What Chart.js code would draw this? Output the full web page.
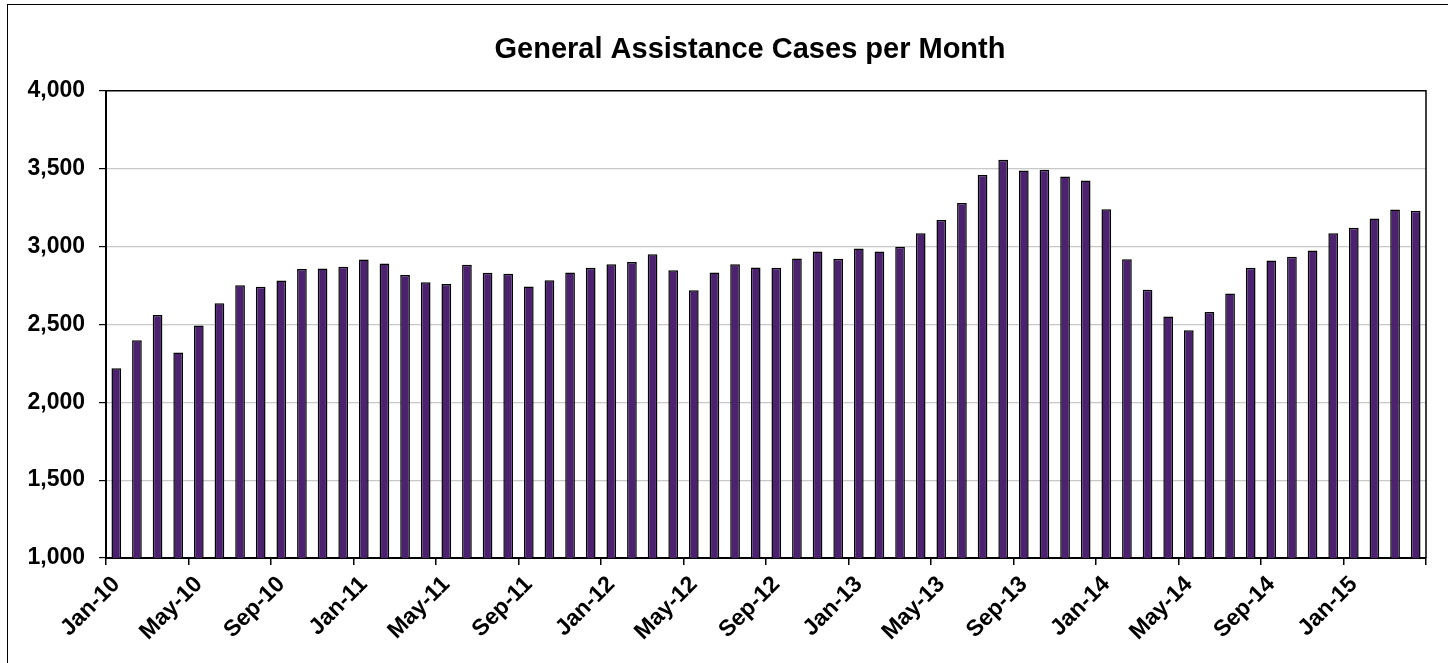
<!DOCTYPE html>
<html>
<head>
<meta charset="utf-8">
<script src="https://cdn.jsdelivr.net/npm/chart.js@4/dist/chart.umd.min.js"></script>
<style>
    html, body { margin: 0; padding: 0; background: #fff; overflow: hidden; }
    #wrap { position: relative; width: 1448px; height: 663px; overflow: hidden; }
    #frame { position: absolute; left: 7px; top: 4px; width: 2000px; height: 2000px;
             border: 1.5px solid #000; pointer-events: none; }
    canvas { position: absolute; left: 0; top: 0; }
</style>
</head>
<body>
<div id="wrap">
    <canvas id="chart" width="1500" height="663"></canvas>
    <div id="frame"></div>
</div>
<script>
const months = ['Jan', 'Feb', 'Mar', 'Apr', 'May', 'Jun', 'Jul', 'Aug', 'Sep', 'Oct', 'Nov', 'Dec'];
const years = ['10', '11', '12', '13', '14', '15'];

// Jan-10 .. Apr-15, one label per month
const labels = [];
years.forEach(y => months.forEach(m => labels.push(m + '-' + y)));
labels.length = 64;

const cases = [
    2219, 2399, 2561, 2319, 2493, 2636, 2752, 2741, 2782, 2855, 2859, 2870,
    2917, 2891, 2818, 2771, 2759, 2883, 2831, 2825, 2743, 2784, 2833, 2863,
    2887, 2900, 2951, 2848, 2720, 2833, 2887, 2865, 2863, 2923, 2968, 2921,
    2987, 2968, 2998, 3086, 3170, 3279, 3459, 3557, 3488, 3493, 3450, 3424,
    3240, 2919, 2722, 2550, 2463, 2579, 2698, 2863, 2910, 2934, 2974, 3086,
    3120, 3180, 3238, 3229
];

const yMin = 1000;
const yMax = 4000;
const yStep = 500;

// top and right edge of the plot area
const plotBorder = {
    id: 'plotBorder',
    afterDraw(chart) {
        const { ctx, chartArea: a } = chart;
        ctx.save();
        ctx.strokeStyle = '#000';
        ctx.lineWidth = 1.5;
        ctx.beginPath();
        ctx.moveTo(a.left, a.top);
        ctx.lineTo(a.right, a.top);
        ctx.lineTo(a.right, a.bottom);
        ctx.stroke();
        ctx.restore();
    }
};

const font = { family: '"Liberation Sans", Arial, sans-serif', size: 23, weight: 'bold' };

new Chart(document.getElementById('chart').getContext('2d'), {
    type: 'bar',
    data: {
        labels: labels,
        datasets: [{
            label: 'Cases',
            data: cases,
            backgroundColor: '#4B2170',
            borderColor: '#000',
            borderWidth: 1.5,
            categoryPercentage: 1,
            barPercentage: 0.47,
            yAxisID: 'y',
        }],
    },
    options: {
        responsive: false,
        animation: false,
        layout: { padding: 0 },
        plugins: {
            legend: { display: false },
            tooltip: { enabled: false },
            title: {
                display: true,
                text: 'General Assistance Cases per Month',
                color: '#000',
                font: { family: font.family, size: 29, weight: 'bold' },
                padding: { top: 33, bottom: 23 },
            },
        },
        scales: {
            x: {
                offset: true,
                grid: {
                    offset: true,
                    drawOnChartArea: false,
                    drawTicks: true,
                    tickLength: 7,
                    lineWidth: 1.5,
                    color: c => (c.index === undefined || c.index % 4 === 0) ? '#000' : 'rgba(0,0,0,0)',
                },
                border: { color: '#000', width: 2 },
                ticks: {
                    autoSkip: false,
                    maxRotation: 45,
                    minRotation: 45,
                    color: '#000',
                    font: font,
                    padding: 6,
                    callback: (v, i) => i % 4 === 0 ? labels[i] : '',
                },
                afterFit: s => { s.height = 105; },
            },
            y: {
                min: yMin,
                max: yMax,
                grid: {
                    color: c => c.tick && c.tick.value === yMax ? 'rgba(0,0,0,0)' : '#c8c8c8',
                    lineWidth: 1.2,
                    tickColor: '#000',
                    tickLength: 7,
                },
                border: { color: '#000', width: 2 },
                ticks: {
                    stepSize: yStep,
                    color: '#000',
                    font: font,
                    padding: 14,
                    callback: v => v.toLocaleString('en-US'),
                },
                afterFit: s => { s.width = 106; },
            },
            // empty right-hand axis, only reserves the margin right of the plot
            yRight: {
                position: 'right',
                grid: { display: false },
                border: { display: false },
                ticks: { display: false },
                afterFit: s => { s.width = 74; },
            },
        },
    },
    plugins: [plotBorder],
});
</script>
</body>
</html>
